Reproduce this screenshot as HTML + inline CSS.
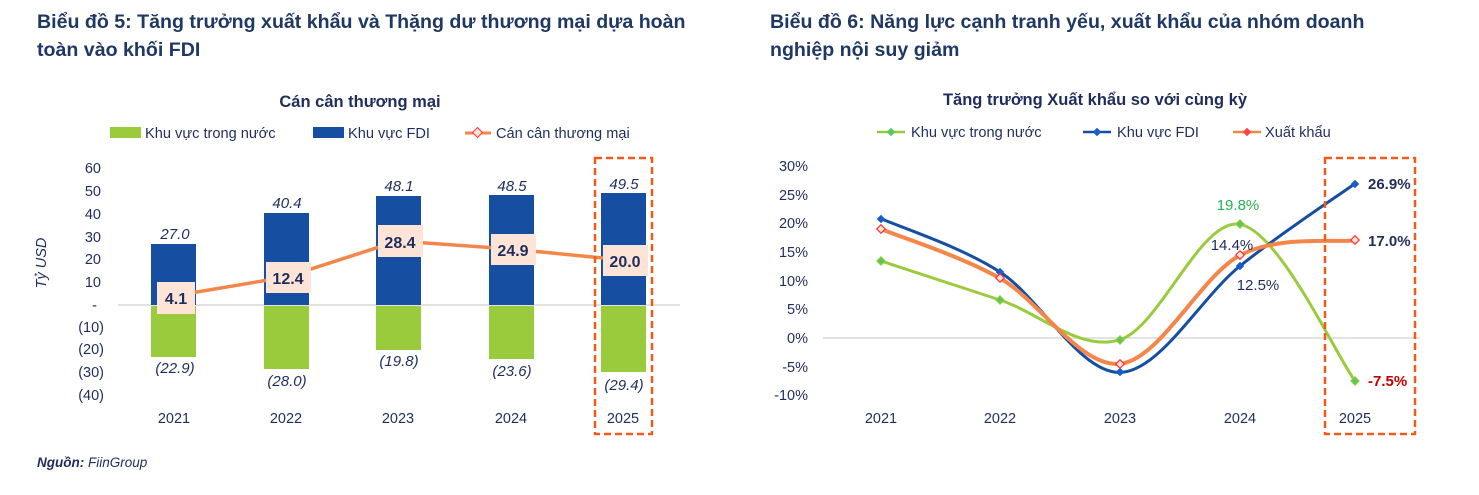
<!DOCTYPE html>
<html><head><meta charset="utf-8"><style>
body{margin:0;background:#fff;}
svg{display:block;font-family:"Liberation Sans",Arial,sans-serif;}
</style></head><body>
<svg width="1479" height="495" viewBox="0 0 1479 495" xmlns="http://www.w3.org/2000/svg">
<g fill="#1f3864" font-weight="bold" font-size="19.6">
<text x="37" y="28">Biểu đồ 5: Tăng trưởng xuất khẩu và Thặng dư thương mại dựa hoàn</text>
<text x="37" y="56">toàn vào khối FDI</text>
<text x="770" y="28">Biểu đồ 6: Năng lực cạnh tranh yếu, xuất khẩu của nhóm doanh</text>
<text x="770" y="56">nghiệp nội suy giảm</text>
</g>
<g fill="#1f2d5c" font-weight="bold" font-size="16.5" text-anchor="middle">
<text x="360" y="107">Cán cân thương mại</text>
<text x="1095" y="105">Tăng trưởng Xuất khẩu so với cùng kỳ</text>
</g>
<!-- left legend -->
<rect x="110" y="127" width="31" height="11" fill="#9acb3c"/>
<text x="145" y="138" font-size="14.6" fill="#1f2d5c">Khu vực trong nước</text>
<rect x="313" y="127" width="31" height="11" fill="#164ea1"/>
<text x="348" y="138" font-size="14.6" fill="#1f2d5c">Khu vực FDI</text>
<line x1="465" y1="133" x2="491" y2="133" stroke="#f4864a" stroke-width="3"/>
<rect x="474" y="129" width="7" height="7" fill="#fde6d8" stroke="#f44" stroke-width="1.2" transform="rotate(45 477.5 132.5)"/>
<text x="496" y="138" font-size="14.6" fill="#1f2d5c">Cán cân thương mại</text>
<!-- left y axis -->
<g font-size="14.5" fill="#1f2d5c" text-anchor="end">
<text x="101" y="173">60</text><text x="101" y="196">50</text><text x="101" y="219">40</text>
<text x="101" y="242">30</text><text x="101" y="264">20</text><text x="101" y="287">10</text>
<text x="97" y="310">-</text><text x="104" y="332">(10)</text><text x="104" y="354">(20)</text>
<text x="104" y="377">(30)</text><text x="104" y="400">(40)</text>
</g>
<text transform="translate(46 263) rotate(-90)" font-size="14.5" font-style="italic" fill="#1f2d5c" text-anchor="middle">Tỷ USD</text>
<line x1="118" y1="305" x2="680" y2="305" stroke="#d9d9d9" stroke-width="1.5"/>
<!-- bars -->
<g fill="#164ea1">
<rect x="151" y="244" width="45" height="61"/><rect x="264" y="213" width="45" height="92"/>
<rect x="376" y="196" width="45" height="109"/><rect x="489" y="195" width="45" height="110"/>
<rect x="601" y="193" width="45" height="112"/>
</g>
<g fill="#9acb3c">
<rect x="151" y="306" width="45" height="51"/><rect x="264" y="306" width="45" height="63"/>
<rect x="376" y="306" width="45" height="44"/><rect x="489" y="306" width="45" height="53"/>
<rect x="601" y="306" width="45" height="66"/>
</g>
<g font-size="15" font-style="italic" fill="#1f2d5c" text-anchor="middle">
<text x="175" y="239">27.0</text><text x="287" y="208">40.4</text><text x="399" y="191">48.1</text>
<text x="512" y="191">48.5</text><text x="624" y="189">49.5</text>
<text x="175" y="373">(22.9)</text><text x="287" y="386">(28.0)</text><text x="399" y="366">(19.8)</text>
<text x="512" y="376">(23.6)</text><text x="624" y="390">(29.4)</text>
</g>
<polyline points="173,296 286,277 398,241 511,249 623,260" fill="none" stroke="#f4864a" stroke-width="3.5"/>
<g fill="#fde4d6">
<rect x="157" y="282" width="38" height="32"/><rect x="266" y="262" width="45" height="31"/>
<rect x="378" y="225" width="45" height="32"/><rect x="491" y="234" width="45" height="31"/>
<rect x="603" y="245" width="45" height="31"/>
</g>
<g font-size="16" font-weight="bold" fill="#1f2d5c" text-anchor="middle">
<text x="176" y="304">4.1</text><text x="288" y="284">12.4</text><text x="400" y="248">28.4</text>
<text x="513" y="256">24.9</text><text x="625" y="267">20.0</text>
</g>
<g font-size="14.5" fill="#1f2d5c" text-anchor="middle">
<text x="174" y="423">2021</text><text x="286" y="423">2022</text><text x="398" y="423">2023</text>
<text x="511" y="423">2024</text><text x="623" y="423">2025</text>
</g>
<rect x="595" y="158" width="57" height="276" fill="none" stroke="#f05a1a" stroke-width="2.5" stroke-dasharray="7,4"/>
<text x="37" y="467" font-size="13.5" font-style="italic" fill="#1f2d5c"><tspan font-weight="bold">Nguồn:</tspan> FiinGroup</text>

<!-- right legend -->
<line x1="877" y1="132" x2="905" y2="132" stroke="#9acb3c" stroke-width="2.5"/>
<rect x="888" y="129" width="6" height="6" fill="#5bc85b" transform="rotate(45 891 132)"/>
<text x="911" y="137" font-size="14.6" fill="#1f2d5c">Khu vực trong nước</text>
<line x1="1083" y1="132" x2="1111" y2="132" stroke="#164ea1" stroke-width="2.5"/>
<rect x="1094" y="129" width="6" height="6" fill="#1a5cc8" transform="rotate(45 1097 132)"/>
<text x="1117" y="137" font-size="14.6" fill="#1f2d5c">Khu vực FDI</text>
<line x1="1233" y1="132" x2="1261" y2="132" stroke="#f4864a" stroke-width="2.5"/>
<rect x="1244" y="129" width="6" height="6" fill="#f44" transform="rotate(45 1247 132)"/>
<text x="1265" y="137" font-size="14.6" fill="#1f2d5c">Xuất khẩu</text>
<g font-size="14.5" fill="#1f2d5c" text-anchor="end">
<text x="808" y="171">30%</text><text x="808" y="200">25%</text><text x="808" y="228">20%</text>
<text x="808" y="257">15%</text><text x="808" y="286">10%</text><text x="808" y="314">5%</text>
<text x="808" y="343">0%</text><text x="808" y="372">-5%</text><text x="808" y="400">-10%</text>
</g>
<line x1="823" y1="338" x2="1420" y2="338" stroke="#d9d9d9" stroke-width="1.5"/>
<path d="M881,261 C900.8,267.5 960.2,286.9 1000,300 C1039.8,313.1 1080,352.3 1120,339.7 C1160,327.1 1200.8,217.4 1240,224.3 C1279.2,231.2 1335.8,354.9 1355,381" fill="none" stroke="#9acb3c" stroke-width="3"/>
<path d="M881,218.6 C900.8,227.5 960.2,246.4 1000,272 C1039.8,297.6 1080,373.4 1120,372.4 C1160,371.4 1200.8,297.5 1240,266 C1279.2,234.5 1335.8,197.3 1355,183.6" fill="none" stroke="#164ea1" stroke-width="3"/>
<path d="M881,229 C900.8,237.2 960.2,255.8 1000,278.3 C1039.8,300.8 1080,367.6 1120,363.8 C1160,360 1200.8,275.9 1240,255.3 C1279.2,234.9 1335.8,242.9 1355,240.4" fill="none" stroke="#f4864a" stroke-width="4"/>
<g fill="#5bc85b" stroke="#9acb3c" stroke-width="1">
<rect x="878" y="258" width="6" height="6" transform="rotate(45 881 261)"/>
<rect x="997" y="297" width="6" height="6" transform="rotate(45 1000 300)"/>
<rect x="1117" y="337" width="6" height="6" transform="rotate(45 1120 340)"/>
<rect x="1237" y="221" width="6" height="6" transform="rotate(45 1240 224)"/>
<rect x="1352" y="378" width="6" height="6" transform="rotate(45 1355 381)"/>
</g>
<g fill="#1a5cc8">
<rect x="878" y="216" width="6" height="6" transform="rotate(45 881 219)"/>
<rect x="997" y="269" width="6" height="6" transform="rotate(45 1000 272)"/>
<rect x="1117" y="369" width="6" height="6" transform="rotate(45 1120 372)"/>
<rect x="1237" y="263" width="6" height="6" transform="rotate(45 1240 266)"/>
<rect x="1352" y="181" width="6" height="6" transform="rotate(45 1355 184)"/>
</g>
<g fill="#fde6d8" stroke="#f33" stroke-width="1.2">
<rect x="878" y="226" width="6" height="6" transform="rotate(45 881 229)"/>
<rect x="997" y="275" width="6" height="6" transform="rotate(45 1000 278)"/>
<rect x="1117" y="361" width="6" height="6" transform="rotate(45 1120 364)"/>
<rect x="1237" y="252" width="6" height="6" transform="rotate(45 1240 255)"/>
<rect x="1352" y="237" width="6" height="6" transform="rotate(45 1355 240)"/>
</g>
<g font-size="15">
<text x="1368" y="189" font-weight="bold" fill="#1f2d5c">26.9%</text>
<text x="1368" y="246" font-weight="bold" fill="#1f2d5c">17.0%</text>
<text x="1368" y="386" font-weight="bold" fill="#c00000">-7.5%</text>
<text x="1238" y="210" fill="#22b14c" text-anchor="middle">19.8%</text>
<text x="1232" y="250" fill="#1f2d5c" text-anchor="middle">14.4%</text>
<text x="1258" y="290" fill="#1f2d5c" text-anchor="middle">12.5%</text>
</g>
<g font-size="14.5" fill="#1f2d5c" text-anchor="middle">
<text x="881" y="423">2021</text><text x="1000" y="423">2022</text><text x="1120" y="423">2023</text>
<text x="1240" y="423">2024</text><text x="1355" y="423">2025</text>
</g>
<rect x="1325" y="158" width="90" height="276" fill="none" stroke="#f05a1a" stroke-width="2.5" stroke-dasharray="7,4"/>
</svg>
</body></html>
